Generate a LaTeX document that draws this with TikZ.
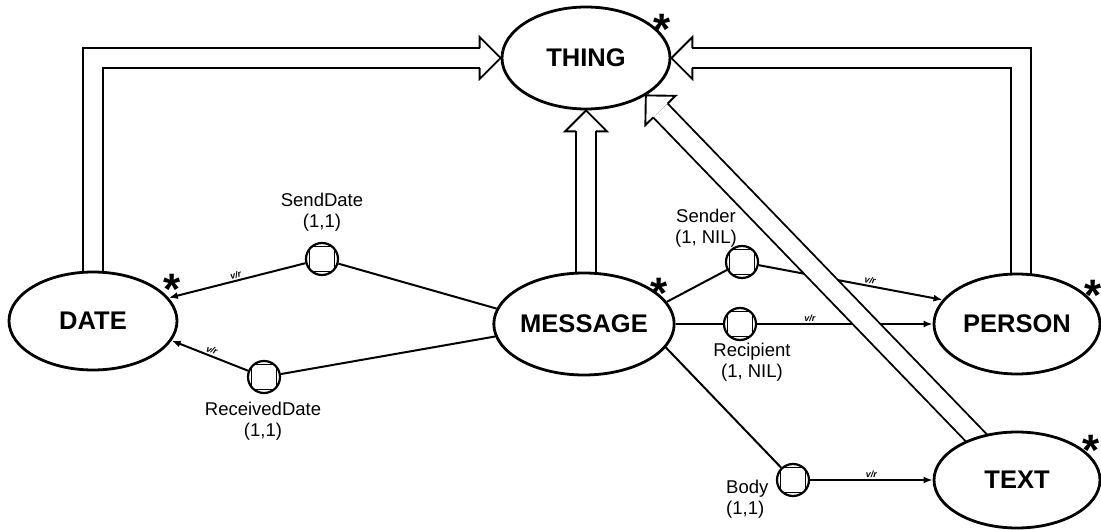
\documentclass[tikz,border=0pt]{standalone}
\usepackage{fontspec}
\setmainfont{Liberation Sans}
\usetikzlibrary{shapes.geometric,calc,arrows.meta}
\pgfdeclarelayer{bg}
\pgfsetlayers{bg,main}
\tikzset{
  concept/.style={ellipse, draw, line width=2.8pt, fill=white, inner sep=0pt,
    font=\fontsize{25.5}{28}\selectfont\bfseries},
  role/.style={circle, draw, line width=2.2pt, fill=white, minimum size=32pt, inner sep=0pt,
    path picture={\draw[line width=1.8pt] ([xshift=-12.5pt,yshift=-12.5pt]path picture bounding box.center) rectangle ++(25pt,25pt);}},
  lbl/.style={font=\fontsize{18.5}{21}\selectfont, align=center, inner sep=0pt},
  vr/.style={font=\fontsize{9}{10}\selectfont\bfseries\itshape, sloped, above, inner sep=1.5pt},
  link/.style={line width=2pt, -{Latex[length=9pt,width=7pt]}},
  plainlink/.style={line width=2pt},
  isa/.style={double, double distance=18pt, line width=1.9pt, line join=miter, shorten >=21pt},
  starmark/.style={font=\fontsize{44}{44}\selectfont\bfseries, anchor=base, inner sep=0pt},
  hhead/.pic={\draw[line width=1.9pt, line join=miter] (-21,10) -- (-21,21) -- (0,0) -- (-21,-21) -- (-21,-10);}
}
\begin{document}
\begin{tikzpicture}[x=1pt,y=-1pt]
\useasboundingbox (0,0) rectangle (1101,530);
% concepts
\node[concept, minimum width=168pt, minimum height=102pt] (thing) at (586,58) {THING};
\node[concept, minimum width=168pt, minimum height=98pt] (date) at (93,321) {DATE};
\node[concept, minimum width=164pt, minimum height=102pt] (message) at (584,324) {MESSAGE};
\node[concept, minimum width=166pt, minimum height=100pt] (person) at (1017,324) {PERSON};
\node[concept, minimum width=166pt, minimum height=96pt] (textn) at (1017,480) {TEXT};
% roles
\node[role] (sd) at (322,259) {};
\node[role] (rd) at (264,377) {};
\node[role] (sn) at (742,262) {};
\node[role] (rc) at (740,324) {};
\node[role] (bd) at (793,480) {};
% role labels
\node[lbl] (sdl) at (322,212) {SendDate\\(1,1)};
\node[lbl] (rdl) at (263,421) {ReceivedDate\\(1,1)};
\node[lbl] (snl) at (706,228) {Sender\\(1, NIL)};
\node[lbl] (rcl) at (752,362) {Recipient\\(1, NIL)};
\node[lbl, align=left, anchor=west] (bdl) at (726,499) {Body\\(1,1)};
% asterisks
\node[starmark] (s1) at (662,44) {*};
\node[starmark] (s2) at (172,304) {*};
\node[starmark] (s3) at (659,308) {*};
\node[starmark] (s4) at (1093,310) {*};
\node[starmark] (s5) at (1091,465) {*};
\begin{pgfonlayer}{bg}
% role connectors
\draw[plainlink] (message.170) -- (sd);
\draw[link] (sd) -- (date.17) node[vr, pos=0.5] {v/r};
\draw[plainlink] (message.-172.5) -- (rd);
\draw[link] (rd) -- (date.-14) node[vr, pos=0.5] {v/r};
\draw[plainlink] (message.15) -- (sn);
\draw[link] (sn) -- (person.162) node[vr, pos=0.6] {v/r};
\draw[plainlink] (message) -- (rc);
\draw[link] (rc) -- (person) node[vr, pos=0.3] {v/r};
\draw[plainlink] (message.-16) -- (bd);
\draw[link] (bd) -- (textn) node[vr, pos=0.5] {v/r};
% is-a arrows
\draw[isa] (date.center) |- (thing.west);
\pic at (thing.west) {hhead};
\draw[isa] ([xshift=4pt]person.center) |- (thing.east);
\pic[rotate=180] at (thing.east) {hhead};
\draw[isa] (message.center -| thing.south) -- (thing.south);
\pic[rotate=90] at (thing.south) {hhead};
\coordinate (ttip) at (thing.-32.5);
\draw[isa] (textn.center) -- (ttip);
\pic[rotate=134.1] at (ttip) {hhead};
\end{pgfonlayer}
\end{tikzpicture}
\end{document}
